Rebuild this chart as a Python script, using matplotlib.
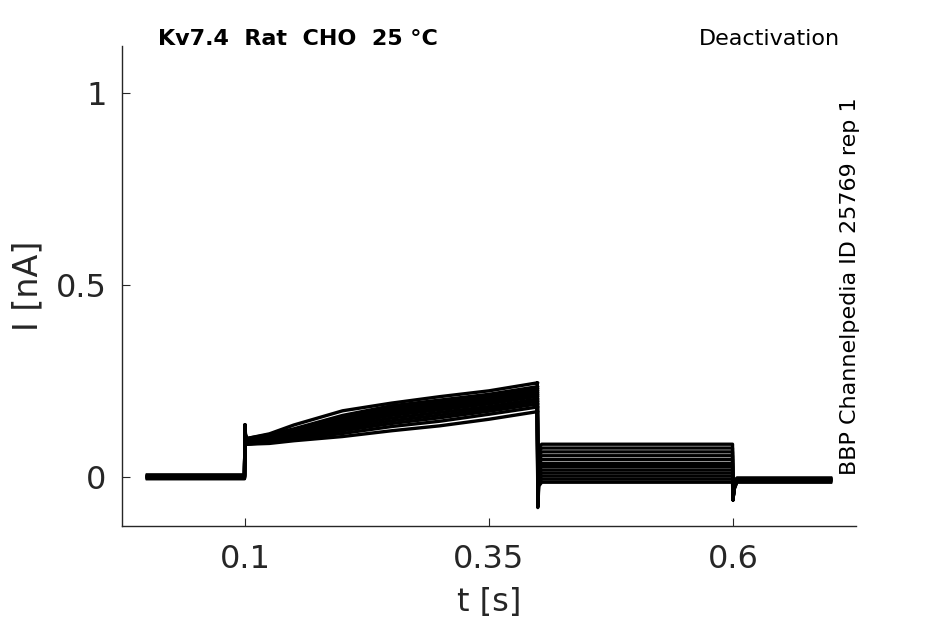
import matplotlib
matplotlib.use("Agg")
import matplotlib.pyplot as plt

# ---- data ----
t_act = [0.1, 0.125, 0.15, 0.2, 0.25, 0.3, 0.35, 0.4]
act = [
    [0.100, 0.112, 0.135, 0.172, 0.192, 0.209, 0.224, 0.245],
    [0.100, 0.110, 0.125, 0.160, 0.185, 0.200, 0.215, 0.235],
    [0.095, 0.105, 0.120, 0.155, 0.180, 0.195, 0.210, 0.230],
    [0.095, 0.105, 0.120, 0.150, 0.175, 0.190, 0.205, 0.225],
    [0.095, 0.100, 0.115, 0.145, 0.170, 0.185, 0.200, 0.220],
    [0.090, 0.100, 0.115, 0.140, 0.165, 0.180, 0.195, 0.215],
    [0.090, 0.100, 0.110, 0.138, 0.160, 0.175, 0.190, 0.210],
    [0.090, 0.095, 0.108, 0.132, 0.153, 0.168, 0.183, 0.203],
    [0.090, 0.095, 0.104, 0.126, 0.146, 0.161, 0.177, 0.197],
    [0.085, 0.093, 0.102, 0.120, 0.139, 0.154, 0.171, 0.190],
    [0.085, 0.090, 0.098, 0.113, 0.131, 0.145, 0.163, 0.182],
    [0.085, 0.087, 0.094, 0.105, 0.120, 0.133, 0.150, 0.170],
]
tail = [0.085, 0.075, 0.065, 0.055, 0.045, 0.035, 0.027, 0.018, 0.010, 0.002, -0.006, -0.014]
tail_spike = [0.03, 0.02, 0.01, 0.0, -0.01, -0.02, -0.03, -0.04, -0.05, -0.06, -0.07, -0.08]
base_pre = [0.004, -0.004, 0.002, -0.002, 0.005, -0.005, 0.0, 0.003, -0.003, 0.001, -0.001, 0.0]
base_post = [-0.004, -0.012, -0.006, -0.010, -0.003, -0.014, -0.008, -0.005, -0.011, -0.007, -0.009, -0.006]
on_spike = 0.135
off_spike = -0.06

xticks = [0.1, 0.35, 0.6]
xticklabels = ["0.1", "0.35", "0.6"]
yticks = [0, 0.5, 1]
yticklabels = ["0", "0.5", "1"]

fig = plt.figure(figsize=(9.45, 6.24), dpi=100)
ax = fig.add_axes([122/945, 1-526/624, (856-122)/945, (526-46)/624])

for a, tl, ts, b0, b1 in zip(act, tail, tail_spike, base_pre, base_post):
    t = [0.0, 0.0995, 0.1, 0.1005, 0.102] + t_act[1:] + [0.3995, 0.4, 0.401, 0.404, 0.5, 0.5995, 0.6, 0.601, 0.604, 0.7]
    y = [b0, b0, on_spike, a[0] + 0.01, a[0]] + a[1:] + [a[-1], ts, tl - 0.01, tl, tl, tl, off_spike, b1 - 0.02, b1, b1]
    ax.plot(t, y, color="black", lw=2.4, solid_joinstyle="round")

ax.set_xlim(-0.026, 0.726)
ax.set_ylim(-0.128, 1.122)
ax.set_xticks(xticks)
ax.set_xticklabels(xticklabels)
ax.set_yticks(yticks)
ax.set_yticklabels(yticklabels)
for s in ["top", "right"]:
    ax.spines[s].set_visible(False)
for s in ["left", "bottom"]:
    ax.spines[s].set_color("#262626")
    ax.spines[s].set_linewidth(1.0)
ax.tick_params(axis="both", direction="in", length=6, width=0.8, colors="#262626", labelsize=23)
ax.tick_params(axis="x", pad=13)
ax.tick_params(axis="y", pad=11)

fig.text(28/945, 1-286/624, "I [nA]", rotation=90, ha="center", va="center", fontsize=24, color="#262626")
fig.text(489/945, 1-603/624, "t [s]", ha="center", va="center", fontsize=23, color="#262626")
fig.text(158/945, 1-39/624, "Kv7.4  Rat  CHO  25 °C", ha="left", va="center", fontsize=16, fontweight="bold", color="black")
fig.text(840/945, 1-39/624, "Deactivation", ha="right", va="center", fontsize=16, color="black")
fig.text(850/945, 1-286/624, "BBP Channelpedia ID 25769 rep 1", rotation=90, ha="center", va="center", fontsize=16, color="black")

fig.savefig("out.png", dpi=100)
